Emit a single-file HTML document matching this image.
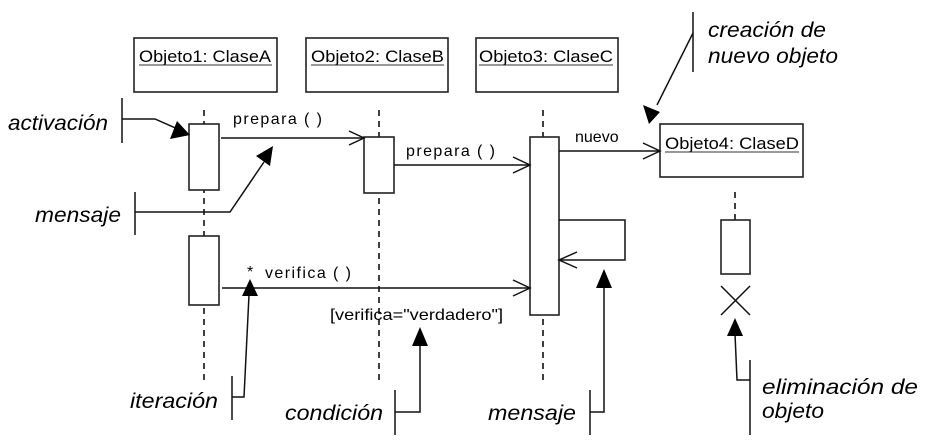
<!DOCTYPE html>
<html><head><meta charset="utf-8"><style>
html,body{margin:0;padding:0;background:#fff;}
svg{display:block;}
text{font-family:"Liberation Sans",Arial,sans-serif;fill:#000;}
.lbl{font-size:16px;}
.obj{font-size:17px;}
.ann{font-size:21px;font-style:italic;}
</style></head><body>
<svg width="930" height="448" viewBox="0 0 930 448" xmlns="http://www.w3.org/2000/svg">
<g fill="#fff" stroke="#222" stroke-width="1.6">
<rect x="134" y="38" width="143" height="54"/>
<rect x="306" y="38" width="142" height="54"/>
<rect x="476" y="38" width="142" height="54"/>
<rect x="660" y="124" width="143" height="53"/>
</g>
<g class="obj">
<text x="139" y="62" textLength="132" lengthAdjust="spacingAndGlyphs">Objeto1: ClaseA</text>
<text x="311" y="62" textLength="133" lengthAdjust="spacingAndGlyphs">Objeto2: ClaseB</text>
<text x="479" y="62" textLength="134" lengthAdjust="spacingAndGlyphs">Objeto3: ClaseC</text>
<text x="665" y="149" textLength="134" lengthAdjust="spacingAndGlyphs">Objeto4: ClaseD</text>
</g>
<g stroke="#333" stroke-width="1">
<line x1="139" y1="65" x2="272" y2="65"/>
<line x1="311" y1="65" x2="444" y2="65"/>
<line x1="479" y1="65" x2="613" y2="65"/>
<line x1="665" y1="152" x2="799" y2="152"/>
</g>
<g stroke="#000" stroke-width="1.5" stroke-dasharray="6,5" fill="none">
<line x1="204" y1="110" x2="204" y2="382"/>
<line x1="379" y1="110" x2="379" y2="382"/>
<line x1="543" y1="110" x2="543" y2="382"/>
<line x1="735" y1="192" x2="735" y2="220"/>
</g>
<g fill="#fff" stroke="#222" stroke-width="1.6">
<rect x="189" y="124" width="30" height="66"/>
<rect x="189" y="236" width="30" height="69"/>
<rect x="364" y="137" width="30" height="56"/>
<rect x="530" y="137" width="29" height="178"/>
<rect x="721" y="220" width="29" height="54"/>
</g>
<g stroke="#111" stroke-width="1.5" fill="none">
<line x1="221" y1="138" x2="364" y2="138"/><polyline points="349,131 364,138 349,145"/>
<line x1="394" y1="165" x2="530" y2="165"/><polyline points="513,157 530,165 513,173"/>
<line x1="559" y1="151" x2="660" y2="151"/><polyline points="643,143 660,151 643,159"/>
<polyline points="559,220 625,220 625,260 559,260"/><polyline points="577,252 559,260 577,268"/>
<line x1="222" y1="288" x2="530" y2="288"/><polyline points="513,280 530,288 513,296"/>
<line x1="721" y1="286" x2="750" y2="315"/><line x1="750" y1="286" x2="721" y2="315"/>
</g>
<g class="lbl">
<text x="233" y="124" textLength="89" lengthAdjust="spacing">prepara  (  )</text>
<text x="406" y="156" textLength="89" lengthAdjust="spacing">prepara  (  )</text>
<text x="575" y="142">nuevo</text>
<text x="247" y="277">*</text>
<text x="265" y="278" textLength="86" lengthAdjust="spacing">verifica  (  )</text>
<text x="330" y="320" textLength="173" lengthAdjust="spacingAndGlyphs">[verifica="verdadero"]</text>
</g>
<g stroke="#111" stroke-width="1.5" fill="none">
<line x1="122" y1="98" x2="122" y2="143"/><polyline points="122,119 155,119 180,130"/>
<line x1="135" y1="192" x2="135" y2="235"/><polyline points="135,212 230,212 264,162"/>
<line x1="232" y1="376" x2="232" y2="420"/><polyline points="232,397 244,397 249,295"/>
<line x1="395" y1="390" x2="395" y2="435"/><polyline points="395,412 420,412 420,345"/>
<line x1="590" y1="390" x2="590" y2="435"/><polyline points="590,412 604,412 604,286"/>
<line x1="750" y1="360" x2="750" y2="435"/><polyline points="750,380 737,380 735,334"/>
<line x1="693" y1="12" x2="693" y2="72"/><polyline points="693,33 657,105"/>
</g>
<g fill="#000">
<polygon points="190,135 170,139 177,121"/>
<polygon points="273,146 256,156 270,166"/>
<polygon points="250,279 242,296 258,296"/>
<polygon points="420,327 412,346 428,346"/>
<polygon points="604,269 596,288 612,288"/>
<polygon points="735,318 727,336 743,336"/>
<polygon points="649,124 643,105 660,112"/>
</g>
<g class="ann">
<text x="8" y="130" textLength="100" lengthAdjust="spacingAndGlyphs">activación</text>
<text x="35" y="222" textLength="86" lengthAdjust="spacingAndGlyphs">mensaje</text>
<text x="130" y="408" textLength="88" lengthAdjust="spacingAndGlyphs">iteración</text>
<text x="285" y="420" textLength="98" lengthAdjust="spacingAndGlyphs">condición</text>
<text x="488" y="420" textLength="88" lengthAdjust="spacingAndGlyphs">mensaje</text>
<text x="762" y="394" textLength="156" lengthAdjust="spacingAndGlyphs">eliminación de</text>
<text x="762" y="418" textLength="62" lengthAdjust="spacingAndGlyphs">objeto</text>
<text x="708" y="37" textLength="118" lengthAdjust="spacingAndGlyphs">creación de</text>
<text x="708" y="63" textLength="130" lengthAdjust="spacingAndGlyphs">nuevo objeto</text>
</g>
</svg>
</body></html>
